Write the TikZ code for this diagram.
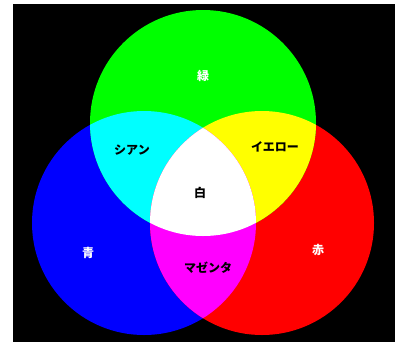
\documentclass[tikz,border=0pt]{standalone}
\usepackage{fontspec}
\newfontfamily\jpfont{Noto Sans CJK JP}
\usetikzlibrary{positioning}
\definecolor{LightRed}{HTML}{FF0000}
\definecolor{LightGreen}{HTML}{00FF00}
\definecolor{LightBlue}{HTML}{0000FF}
\definecolor{LightCyan}{HTML}{00FFFF}
\definecolor{LightYellow}{HTML}{FFFF00}
\definecolor{LightMagenta}{HTML}{FF00FF}

\newcommand{\gcirc}{(203,123) circle[radius=113pt]}
\newcommand{\bcirc}{(144,223) circle[radius=112pt]}
\newcommand{\rcirc}{(262,223) circle[radius=112pt]}

\begin{document}
\begin{tikzpicture}[x=1pt,y=-1pt,
    lbl/.style={font=\jpfont\bfseries\fontsize{12}{12}\selectfont,inner sep=1pt},
    prim/.style={lbl,text=white},
    mix/.style={lbl,text=black}]
    \useasboundingbox (0,0) rectangle (395,343);
    \fill[black] (13,4) rectangle (395,342);
    % primary lights
    \fill[LightBlue] \bcirc;
    \fill[LightRed] \rcirc;
    \fill[LightGreen] \gcirc;
    % overlaps
    \begin{scope}
      \clip \gcirc;
      \fill[LightCyan] \bcirc;
      \fill[LightYellow] \rcirc;
    \end{scope}
    \begin{scope}
      \clip \bcirc;
      \fill[LightMagenta] \rcirc;
      \clip \rcirc;
      \fill[white] \gcirc;
    \end{scope}
    \node[prim] (green) at (203,76) {緑};
    \node[prim] (blue) at (88,253) {青};
    \node[prim] (red) at (318,250) {赤};
    \node[mix] (cyan) at (132,150) {シアン};
    \node[mix] (yellow) at (275,147) {イエロー};
    \node[mix] (white) at (200,193) {白};
    \node[mix] (magenta) at (208,268) {マゼンタ};
  \end{tikzpicture}
\end{document}
